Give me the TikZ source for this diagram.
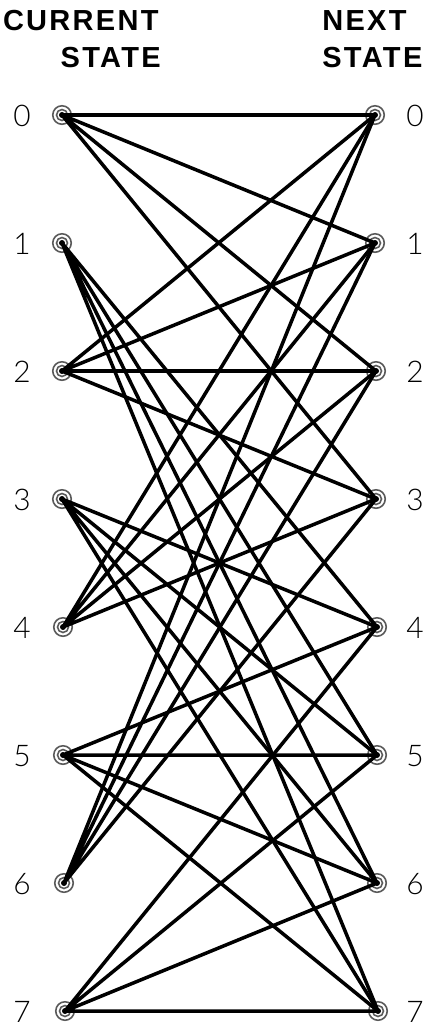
\documentclass[tikz,border=0pt]{standalone}
\usepackage{fontspec}
\setmainfont{Liberation Sans}
\newfontfamily\headfont[LetterSpace=8]{Liberation Sans}
\newfontfamily\numfont{Lato Light}
\usepackage{tikz}

\tikzset{
  state/.style={circle,draw=black!65,line width=0.9pt,minimum size=0.37cm,inner sep=0pt,
    path picture={\draw[black!65,line width=0.9pt] (path picture bounding box.center) circle (0.11cm);
      \fill (path picture bounding box.center) circle (0.06cm);}},
  branch/.style={line width=2pt,line cap=round},
  num/.style={font=\numfont\fontsize{17}{19}\selectfont,inner sep=0pt},
  head/.style={font=\headfont\bfseries\fontsize{16.5}{18}\selectfont,inner sep=0pt}
}

\begin{document}
\begin{tikzpicture}[x=0.02cm,y=-0.02cm]
\useasboundingbox (0,0) rectangle (433,1028);
% headings
\node[head,anchor=base east] (cur1) at (159,30) {CURRENT};
\node[head,anchor=base east] (cur2) at (161,67) {STATE};
\node[head,anchor=base west] (nxt1) at (322,30) {NEXT};
\node[head,anchor=base west] (nxt2) at (322,67) {STATE};
% current states
\node[state] (L0) at (62,115) {};
\node[state] (L1) at (62,243) {};
\node[state] (L2) at (62,371) {};
\node[state] (L3) at (62,499) {};
\node[state] (L4) at (63,627) {};
\node[state] (L5) at (63,755) {};
\node[state] (L6) at (64,883) {};
\node[state] (L7) at (65,1011) {};
% next states
\node[state] (R0) at (375,115) {};
\node[state] (R1) at (375,243) {};
\node[state] (R2) at (376,371) {};
\node[state] (R3) at (376,499) {};
\node[state] (R4) at (377,627) {};
\node[state] (R5) at (377,755) {};
\node[state] (R6) at (377,883) {};
\node[state] (R7) at (378,1011) {};
% state numbers
\node[num] (l0) at (22,116) {0};
\node[num] (l1) at (22,244) {1};
\node[num] (l2) at (22,372) {2};
\node[num] (l3) at (22,500) {3};
\node[num] (l4) at (22,628) {4};
\node[num] (l5) at (22,756) {5};
\node[num] (l6) at (22,884) {6};
\node[num] (l7) at (22,1012) {7};
\node[num] (r0) at (415,116) {0};
\node[num] (r1) at (415,244) {1};
\node[num] (r2) at (415,372) {2};
\node[num] (r3) at (415,500) {3};
\node[num] (r4) at (415,628) {4};
\node[num] (r5) at (415,756) {5};
\node[num] (r6) at (415,884) {6};
\node[num] (r7) at (415,1012) {7};
% branches
\draw[branch] (L0.center) -- (R0.center) (L0.center) -- (R1.center) (L0.center) -- (R2.center) (L0.center) -- (R3.center);
\draw[branch] (L2.center) -- (R0.center) (L2.center) -- (R1.center) (L2.center) -- (R2.center) (L2.center) -- (R3.center);
\draw[branch] (L4.center) -- (R0.center) (L4.center) -- (R1.center) (L4.center) -- (R2.center) (L4.center) -- (R3.center);
\draw[branch] (L6.center) -- (R0.center) (L6.center) -- (R1.center) (L6.center) -- (R2.center) (L6.center) -- (R3.center);
\draw[branch] (L1.center) -- (R4.center) (L1.center) -- (R5.center) (L1.center) -- (R6.center) (L1.center) -- (R7.center);
\draw[branch] (L3.center) -- (R4.center) (L3.center) -- (R5.center) (L3.center) -- (R6.center) (L3.center) -- (R7.center);
\draw[branch] (L5.center) -- (R4.center) (L5.center) -- (R5.center) (L5.center) -- (R6.center) (L5.center) -- (R7.center);
\draw[branch] (L7.center) -- (R4.center) (L7.center) -- (R5.center) (L7.center) -- (R6.center) (L7.center) -- (R7.center);
\end{tikzpicture}
\end{document}
